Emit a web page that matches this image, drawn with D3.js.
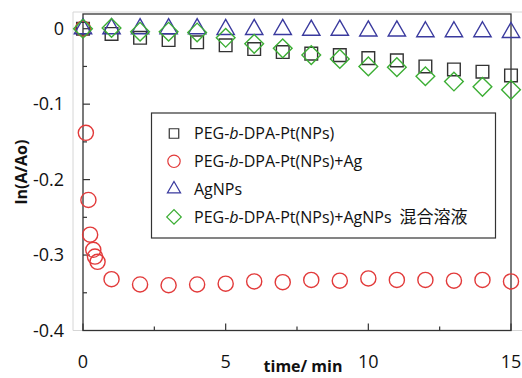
<!DOCTYPE html>
<html>
<head>
<meta charset="utf-8">
<script src="https://cdn.jsdelivr.net/npm/d3@7"></script>
<style>
  body { margin: 0; background: #fff; }
  svg text { font-family: "Open Sans", "Noto Sans", sans-serif; fill: #111; }
</style>
</head>
<body>
<div id="chart"></div>
<script>
// time axis (min)
const timeInt = [0, 1, 2, 3, 4, 5, 6, 7, 8, 9, 10, 11, 12, 13, 14, 15];
const timeAg = [0, 0.1, 0.19, 0.25, 0.36, 0.42, 0.51, 1, 2, 3, 4, 5, 6, 7, 8, 9, 10, 11, 12, 13, 14, 15];

// ln(A/Ao) series
const ptValues = [0, -0.007, -0.012, -0.015, -0.018, -0.022, -0.027, -0.031, -0.033, -0.035, -0.039, -0.042, -0.050, -0.054, -0.057, -0.062];
const ptAgValues = [0, -0.138, -0.227, -0.273, -0.293, -0.302, -0.309, -0.332, -0.339, -0.340, -0.339, -0.338, -0.335, -0.336, -0.333, -0.334, -0.331, -0.333, -0.333, -0.334, -0.333, -0.335];
const agValues = [0, 0, 0, 0, 0, -0.001, -0.001, -0.001, -0.002, -0.002, -0.003, -0.003, -0.004, -0.004, -0.004, -0.005];
const mixValues = [0, 0.001, -0.004, -0.004, -0.005, -0.012, -0.020, -0.026, -0.035, -0.040, -0.050, -0.051, -0.063, -0.070, -0.077, -0.081];

const xTicks = [0, 5, 10, 15];
const yTicks = [0, -0.1, -0.2, -0.3, -0.4];
const yTickLabels = ["0", "-0.1", "-0.2", "-0.3", "-0.4"];
const legendLabels = ["PEG-b-DPA-Pt(NPs)", "PEG-b-DPA-Pt(NPs)+Ag", "AgNPs", "PEG-b-DPA-Pt(NPs)+AgNPs"];
const legendSuffix = ["", "", "", "混合溶液"];

const W = 522, H = 378;
const svg = d3.select("#chart").append("svg")
  .attr("width", W).attr("height", H);

const x = d3.scaleLinear().domain([0, 15]).range([83, 511]);
const y = d3.scaleLinear().domain([-0.4, 0.0195]).range([330.5, 14]);

// faint outer frame
svg.append("path")
  .attr("d", "M73,330.5V12H522")
  .attr("fill", "none").attr("stroke", "#d6d6d6").attr("stroke-width", 1);
svg.append("line")
  .attr("x1", 73).attr("x2", 522).attr("y1", 330.5).attr("y2", 330.5)
  .attr("stroke", "#d6d6d6");

// plot box
svg.append("rect")
  .attr("x", x(0)).attr("y", y(0.0195))
  .attr("width", x(15) - x(0)).attr("height", y(-0.4) - y(0.0195))
  .attr("fill", "none").attr("stroke", "#333").attr("stroke-width", 1.3);

// inward ticks
const xt = d3.range(0, 15.01, 2.5);
svg.append("g").selectAll("line").data(xt).join("line")
  .attr("x1", d => x(d)).attr("x2", d => x(d))
  .attr("y1", y(-0.4)).attr("y2", d => y(-0.4) - (d % 5 === 0 ? 7 : 4))
  .attr("stroke", "#333").attr("stroke-width", 1.2);
const yt = d3.range(0, 8).map(i => -0.05 * i);
svg.append("g").selectAll("line").data(yt).join("line")
  .attr("x1", x(0)).attr("x2", (d, i) => x(0) + (i % 2 === 0 ? 7 : 4))
  .attr("y1", d => y(d)).attr("y2", d => y(d))
  .attr("stroke", "#333").attr("stroke-width", 1.2);

// tick labels
svg.append("g").selectAll("text").data(xTicks).join("text")
  .attr("x", d => x(d)).attr("y", 368)
  .attr("text-anchor", "middle").attr("font-size", 18)
  .text(d => d);
svg.append("g").selectAll("text").data(yTicks).join("text")
  .attr("x", 64).attr("y", d => y(d))
  .attr("dy", "0.35em")
  .attr("text-anchor", "end").attr("font-size", 18)
  .text((d, i) => yTickLabels[i]);

// axis titles
svg.append("text")
  .attr("x", 303).attr("y", 372)
  .attr("text-anchor", "middle").attr("font-size", 16).attr("font-weight", "bold")
  .text("time/ min");
svg.append("text")
  .attr("transform", "translate(27,172) rotate(-90)")
  .attr("text-anchor", "middle").attr("font-size", 16).attr("font-weight", "bold")
  .text("ln(A/Ao)");

// series
const series = [
  { xs: timeInt, ys: ptValues, type: d3.symbolSquare, size: 160, rot: 0, color: "#333" },
  { xs: timeAg, ys: ptAgValues, type: d3.symbolCircle, size: 180, rot: 0, color: "#e23a3a" },
  { xs: timeInt, ys: agValues, type: d3.symbolTriangle, size: 130, rot: 0, color: "#3a3a9e" },
  { xs: timeInt, ys: mixValues, type: d3.symbolSquare, size: 175, rot: 45, color: "#3cae34" }
];

series.forEach(s => {
  const sym = d3.symbol().type(s.type).size(s.size);
  svg.append("g").selectAll("path").data(s.xs).join("path")
    .attr("d", sym)
    .attr("transform", (d, i) => `translate(${x(d)},${y(s.ys[i])}) rotate(${s.rot})`)
    .attr("fill", "none").attr("stroke", s.color).attr("stroke-width", 1.4);
});

// legend
const lg = svg.append("g");
lg.append("rect")
  .attr("x", 151.5).attr("y", 113).attr("width", 344).attr("height", 125)
  .attr("fill", "#fff").attr("stroke", "#333").attr("stroke-width", 1.2);
const legendSizes = [90, 120, 75, 105];
legendLabels.forEach((lab, i) => {
  const cy = 133.5 + i * 27.8;
  const s = series[i];
  lg.append("path")
    .attr("d", d3.symbol().type(s.type).size(legendSizes[i]))
    .attr("transform", `translate(174,${cy}) rotate(${s.rot})`)
    .attr("fill", "none").attr("stroke", s.color).attr("stroke-width", 1.2);
  const t = lg.append("text")
    .attr("x", 194).attr("y", cy).attr("dy", "0.35em")
    .attr("font-size", 16);
  const parts = lab.split("-b-");
  t.append("tspan").text(parts.length > 1 ? parts[0] + "-" : lab);
  if (parts.length > 1) {
    t.append("tspan").attr("font-style", "italic").text("b");
    t.append("tspan").text("-" + parts[1]);
  }
  if (legendSuffix[i]) {
    t.append("tspan").attr("dx", 8).attr("font-size", 17)
      .attr("font-family", "'Noto Sans CJK JP', sans-serif")
      .text(legendSuffix[i]);
  }
});
</script>
</body>
</html>
